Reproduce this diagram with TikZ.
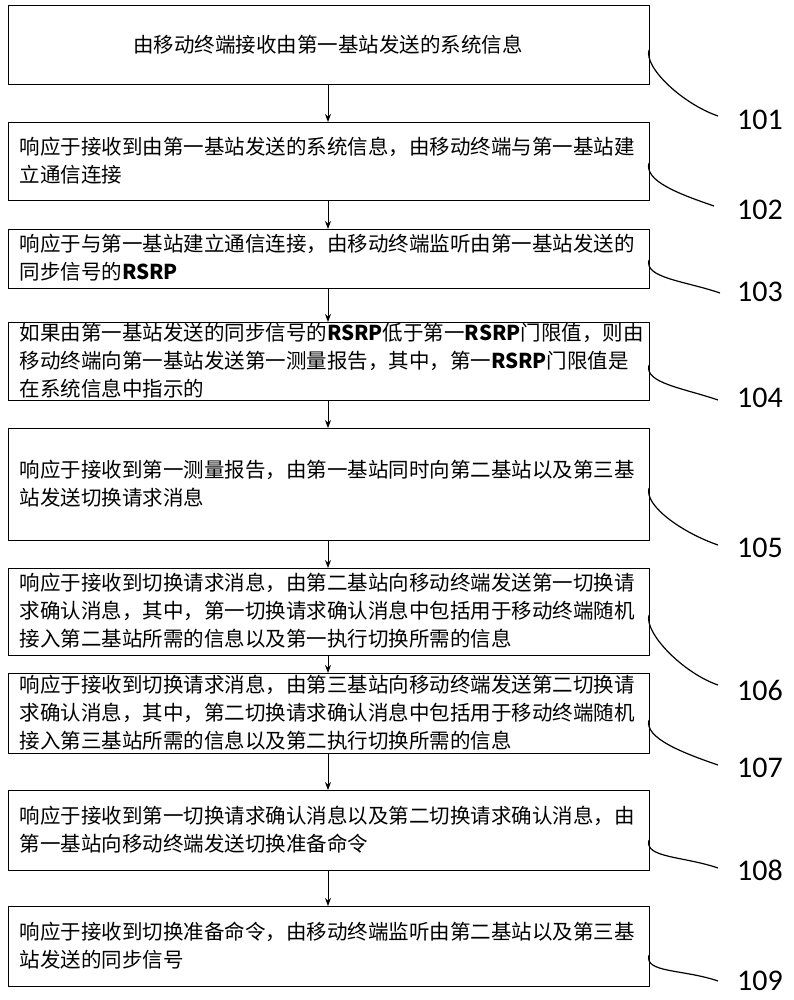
\documentclass[tikz,border=0pt]{standalone}
\usepackage{fontspec}
\setmainfont{Noto Sans CJK SC}
\newfontfamily\lblfont{Carlito}
\usetikzlibrary{arrows.meta,calc}
\begin{document}
\begin{tikzpicture}[x=1pt,y=-1pt,
  box/.style={draw,line width=1pt,minimum width=641pt,anchor=north west,inner sep=0pt},
  txt/.style={anchor=west,align=left,font=\fontsize{20.5}{28}\selectfont},
  lbl/.style={font=\lblfont\fontsize{30}{30}\selectfont},
  arr/.style={-{Stealth[length=8pt,width=6pt]},line width=1pt},
  lead/.style={line width=1.2pt}]
\useasboundingbox (0,0) rectangle (793,1000);
\newcommand{\bx}[3]{\node[box,minimum height=#3-#2] (b#1) at (8,#2) {};}
\bx{1}{5}{84}
\bx{2}{122}{200}
\bx{3}{229}{288}
\bx{4}{322}{400}
\bx{5}{428}{540}
\bx{6}{568}{655}
\bx{7}{673}{753}
\bx{8}{790}{870}
\bx{9}{906}{986}
\node[font=\fontsize{20.5}{28}\selectfont] (t1) at (328,45) {由移动终端接收由第一基站发送的系统信息};
\node[txt] (t2) at (16,161) {响应于接收到由第一基站发送的系统信息，由移动终端与第一基站建\\立通信连接};
\node[txt] (t3) at (16,258) {响应于与第一基站建立通信连接，由移动终端监听由第一基站发送的\\同步信号的\textbf{RSRP}};
\node[txt] (t4) at (16,361) {如果由第一基站发送的同步信号的\textbf{RSRP}低于第一\textbf{RSRP}门限值，则由\\移动终端向第一基站发送第一测量报告，其中，第一\textbf{RSRP}门限值是\\在系统信息中指示的};
\node[txt] (t5) at (16,484) {响应于接收到第一测量报告，由第一基站同时向第二基站以及第三基\\站发送切换请求消息};
\node[txt] (t6) at (16,611) {响应于接收到切换请求消息，由第二基站向移动终端发送第一切换请\\求确认消息，其中，第一切换请求确认消息中包括用于移动终端随机\\接入第二基站所需的信息以及第一执行切换所需的信息};
\node[txt] (t7) at (16,713) {响应于接收到切换请求消息，由第三基站向移动终端发送第二切换请\\求确认消息，其中，第二切换请求确认消息中包括用于移动终端随机\\接入第三基站所需的信息以及第二执行切换所需的信息};
\node[txt] (t8) at (16,830) {响应于接收到第一切换请求确认消息以及第二切换请求确认消息，由\\第一基站向移动终端发送切换准备命令};
\node[txt] (t9) at (16,946) {响应于接收到切换准备命令，由移动终端监听由第二基站以及第三基\\站发送的同步信号};
\foreach \a/\b in {1/2,2/3,3/4,4/5,5/6,6/7,7/8,8/9}
  \draw[arr] (b\a.south -| 328,0) -- (b\b.north -| 328,0);
\foreach \n/\sy/\ex/\ey/\ly in {101/50/718/116/120,102/163/714/206/210,103/260/720/293/292,104/365/718/400/398,105/488/718/545/548,106/615/718/685/690,107/720/718/765/768,108/840/718/868/870,109/955/718/981/981}{
  \coordinate (s\n) at (649,\sy);
  \coordinate (e\n) at (\ex,\ey);
  \draw[lead] (s\n) .. controls ($(s\n)+(-5,18)$) and ($(e\n)+(-35,-12)$) .. (e\n);
  \node[lbl] (l\n) at (760,\ly) {\n};
}
\end{tikzpicture}
\end{document}
